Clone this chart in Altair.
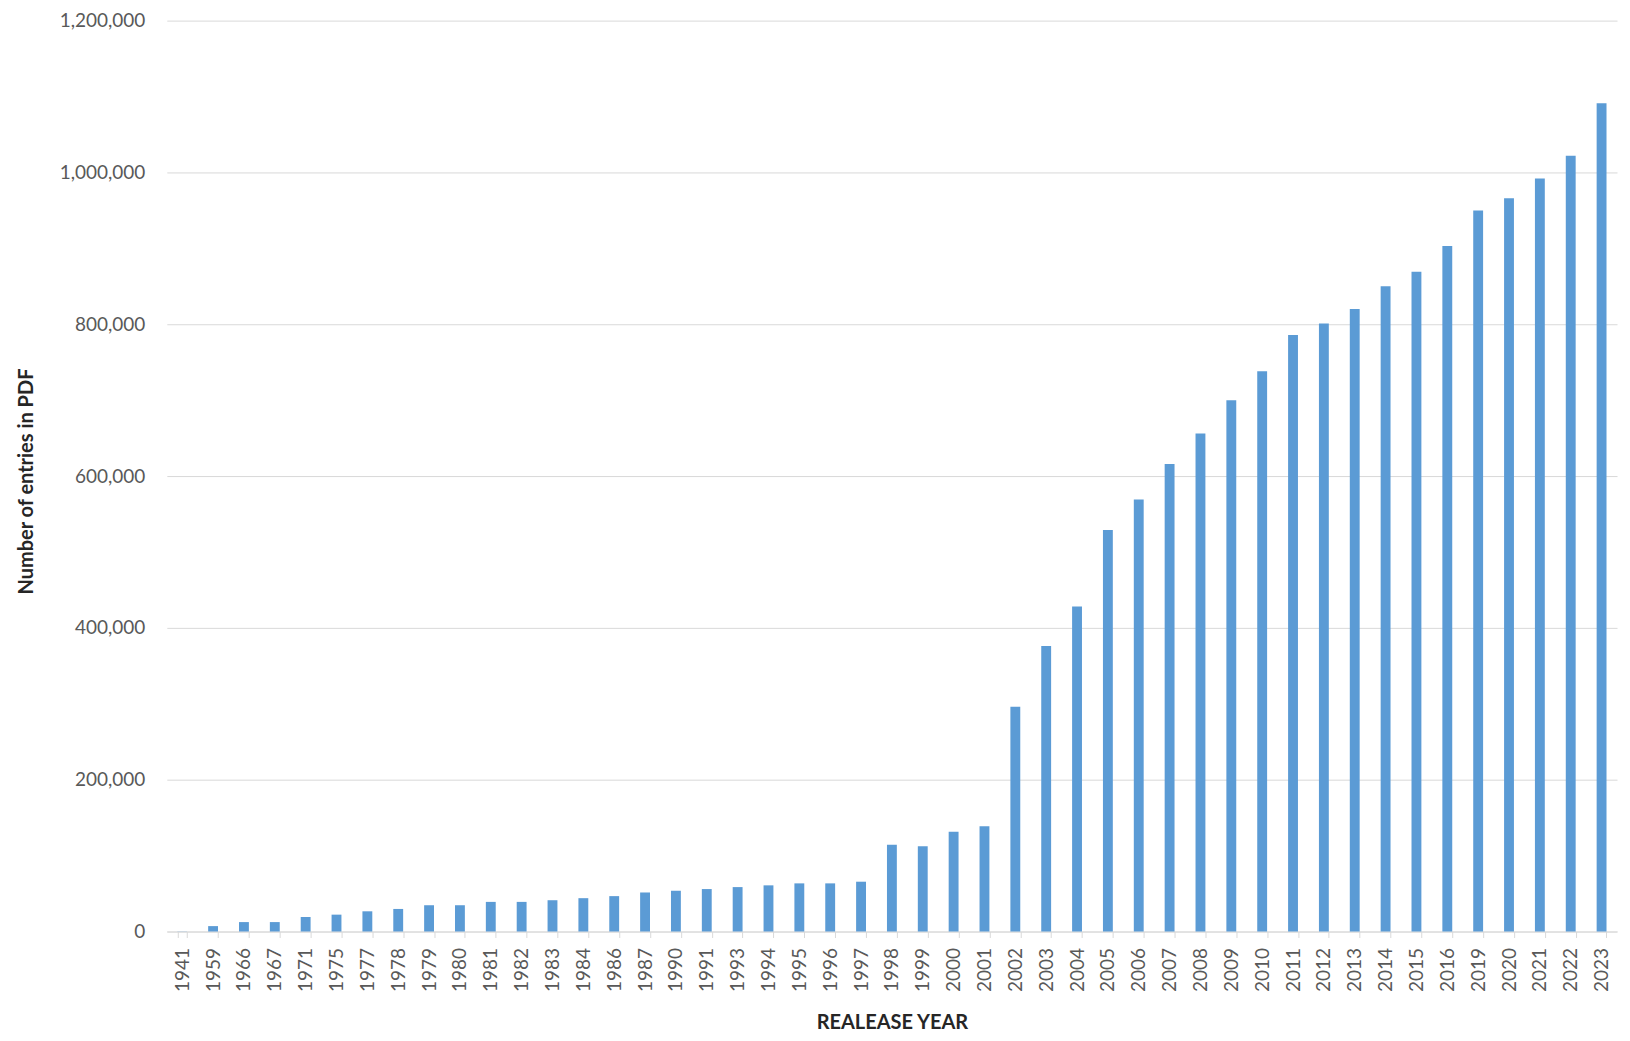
import altair as alt
import pandas as pd

years = ["1941", "1959", "1966", "1967", "1971", "1975", "1977", "1978", "1979", "1980",
         "1981", "1982", "1983", "1984", "1986", "1987", "1990", "1991", "1993", "1994",
         "1995", "1996", "1997", "1998", "1999", "2000", "2001", "2002", "2003", "2004",
         "2005", "2006", "2007", "2008", "2009", "2010", "2011", "2012", "2013", "2014",
         "2015", "2016", "2019", "2020", "2021", "2022", "2023"]
entries = [200, 7100, 12400, 12400, 19100, 22200, 26600, 29700, 34600, 34600,
           39000, 39000, 41200, 43900, 46600, 51400, 53700, 55900, 58500, 60800,
           63400, 63400, 65600, 114400, 112200, 131300, 138800, 296000, 376000, 428000,
           529000, 569000, 616000, 656000, 700000, 738000, 786000, 801000, 820000, 850000,
           869000, 903000, 950000, 966000, 992000, 1022000, 1091000]
y_ticks = [0, 200000, 400000, 600000, 800000, 1000000, 1200000]

df = pd.DataFrame({"year": years, "entries": entries})

FONT = "Lato"

chart = alt.Chart(df).mark_bar(color="#5B9BD5").encode(
    x=alt.X("year:N", sort=years,
            scale=alt.Scale(paddingInner=0.68, paddingOuter=0.34),
            axis=alt.Axis(title="REALEASE YEAR", labelAngle=-90,
                          labelFont=FONT, labelFontSize=19, labelColor="#595959",
                          labelPadding=10, ticks=True, tickSize=6, tickBand="extent",
                          tickColor="#D9D9D9", domainColor="#D9D9D9", domainWidth=1,
                          grid=False,
                          titleFont=FONT, titleFontSize=20, titleFontWeight="bold",
                          titleColor="#262626", titleY=91, titleBaseline="middle")),
    y=alt.Y("entries:Q",
            scale=alt.Scale(domain=[0, 1200000], nice=False),
            axis=alt.Axis(title="Number of entries in PDF", values=y_ticks, format=",d",
                          labelFont=FONT, labelFontSize=19, labelColor="#595959",
                          labelPadding=22, ticks=False, tickSize=0, domain=False,
                          grid=True, gridColor="#D9D9D9", gridWidth=1,
                          titleFont=FONT, titleFontSize=20, titleFontWeight="bold",
                          titleColor="#262626", titleX=-140, titleY=461,
                          titleAngle=-90, titleBaseline="middle")),
    tooltip=["year", "entries"],
).properties(
    width=1452,
    height=912,
    background="white",
    autosize=alt.AutoSizeParams(type="none"),
    padding={"left": 159, "top": 12, "right": 5, "bottom": 110},
).configure_view(stroke=None)

chart.save("out.html", embed_options={"renderer": "svg", "actions": False})
